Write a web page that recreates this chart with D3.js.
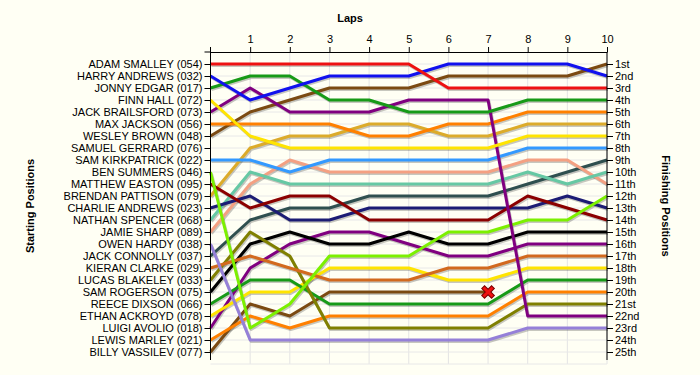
<!DOCTYPE html>
<html>
<head>
<meta charset="utf-8">
<script src="https://cdn.jsdelivr.net/npm/d3@7"></script>
<style>
  html, body { margin: 0; padding: 0; background: #fffff4; }
  svg { display: block; font-family: "Liberation Sans", Arial, sans-serif; }
</style>
</head>
<body>
<svg id="chart" width="700" height="375"></svg>
<script>
// ---------- data ----------
const laps = [0, 1, 2, 3, 4, 5, 6, 7, 8, 9, 10];
const lapTickLabels = ["1", "2", "3", "4", "5", "6", "7", "8", "9", "10"];

const drivers = [
  "ADAM SMALLEY (054)", "HARRY ANDREWS (032)", "JONNY EDGAR (017)", "FINN HALL (072)",
  "JACK BRAILSFORD (073)", "MAX JACKSON (056)", "WESLEY BROWN (048)", "SAMUEL GERRARD (076)",
  "SAM KIRKPATRICK (022)", "BEN SUMMERS (046)", "MATTHEW EASTON (095)", "BRENDAN PATTISON (079)",
  "CHARLIE ANDREWS (023)", "NATHAN SPENCER (068)", "JAMIE SHARP (089)", "OWEN HARDY (038)",
  "JACK CONNOLLY (037)", "KIERAN CLARKE (029)", "LUCAS BLAKELEY (033)", "SAM ROGERSON (075)",
  "REECE DIXSON (066)", "ETHAN ACKROYD (078)", "LUIGI AVOLIO (018)", "LEWIS MARLEY (021)",
  "BILLY VASSILEV (077)"
];

const finishLabels = ["1st","2nd","3rd","4th","5th","6th","7th","8th","9th","10th","11th","12th",
  "13th","14th","15th","16th","17th","18th","19th","20th","21st","22nd","23rd","24th","25th"];

// position at each lap (lap 0 .. lap 10), one row per driver in starting order; null = no data
const lapPositions = [
  [1, 1, 1, 1, 1, 1, 3, 3, 3, 3, 3],          // Smalley
  [2, 4, 3, 2, 2, 2, 1, 1, 1, 1, 2],          // H. Andrews
  [3, 2, 2, 4, 4, 5, 5, 5, 4, 4, 4],          // Edgar
  [4, 7, 8, 8, 8, 8, 8, 8, 7, 7, 7],          // Hall
  [5, 3, 5, 5, 5, 4, 4, 4, 22, 22, 22],       // Brailsford
  [6, 6, 6, 6, 7, 7, 6, 6, 5, 5, 5],          // Jackson
  [7, 5, 4, 3, 3, 3, 2, 2, 2, 2, 1],          // Brown
  [null, null, null, null, null, null, null, null, null, null, null], // Gerrard
  [9, 9, 10, 9, 9, 9, 9, 9, 8, 8, 8],         // Kirkpatrick
  [10, 23, 21, 17, 17, 17, 15, 15, 14, 14, 12], // Summers
  [11, 13, 12, 12, 14, 14, 14, 14, 12, 13, 14], // Easton
  [12, 8, 7, 7, 6, 6, 7, 7, 6, 6, 6],         // Pattison
  [13, 12, 14, 14, 13, 13, 13, 13, 13, 12, 13], // C. Andrews
  [14, 10, 11, 11, 11, 11, 11, 11, 10, 11, 10], // Spencer
  [15, 11, 9, 10, 10, 10, 10, 10, 9, 9, 11],  // Sharp
  [16, 24, 24, 24, 24, 24, 24, 24, 23, 23, 23], // Hardy
  [17, 14, 13, 13, 12, 12, 12, 12, 11, 10, 9], // Connolly
  [18, 17, 18, 19, 19, 19, 18, 18, 17, 17, 17], // Clarke
  [19, 15, 17, 23, 23, 23, 23, 23, 21, 21, 21], // Blakeley
  [20, 16, 15, 16, 16, 15, 16, 16, 15, 15, 15], // Rogerson
  [21, 19, 19, 21, 21, 21, 21, 21, 19, 19, 19], // Dixson
  [22, 20, 20, 18, 18, 18, 19, 19, 18, 18, 18], // Ackroyd
  [23, 18, 16, 15, 15, 16, 17, 17, 16, 16, 16], // Avolio
  [24, 22, 23, 22, 22, 22, 22, 22, 20, 20, 20], // Marley
  [25, 21, 22, 20, 20, 20, 20, 20, null, null, null] // Vassilev (retired)
];

const retiredDriver = ["BILLY VASSILEV (077)"];
const retiredLap = [7];

const driverColors = [
  "#ee1111", "#1111ee", "#179a17", "#ffe400", "#800080", "#ff8000", "#7b4a12", "#999999",
  "#3399ff", "#7cf000", "#8b0000", "#dcab2a", "#1c1c74", "#66c8a4", "#f4a082", "#9580d8",
  "#2f4f4f", "#d2691e", "#808000", "#000000", "#179a17", "#ffe400", "#800080", "#ff8000",
  "#7b4a12"
];

// ---------- drawing ----------
const svg = d3.select("#chart");
const x = d3.scaleLinear().domain([0, 10]).range([210.5, 607]);
const y = d3.scaleLinear().domain([1, 25]).range([64, 352]);
const plotTop = 52, plotBottom = 364;

svg.append("rect").attr("width", 700).attr("height", 375).attr("fill", "#fffff4");

// grid
const grid = svg.append("g");
grid.selectAll(".vg").data(laps.slice(1)).join("line")
  .attr("x1", d => x(d)).attr("x2", d => x(d))
  .attr("y1", plotTop).attr("y2", plotBottom)
  .attr("stroke", "#e4e4e4").attr("stroke-width", 1);
grid.selectAll(".hg").data(d3.range(1, 27)).join("line")
  .attr("x1", x(0)).attr("x2", x(10))
  .attr("y1", d => y(d)).attr("y2", d => y(d))
  .attr("stroke", "#e8e8e8").attr("stroke-width", 1);

// lines
const line = d3.line()
  .defined(d => d.p != null)
  .x(d => x(d.lap)).y(d => y(d.p));

const series = drivers.map((name, i) => ({
  name, color: driverColors[i],
  pts: laps.map((l, k) => ({ lap: l, p: lapPositions[i][k] }))
}));

const lg = svg.append("g");
const order = series.slice().reverse();
lg.selectAll(".shadow").data(order).join("path")
  .attr("class", "shadow")
  .attr("d", d => line(d.pts))
  .attr("transform", "translate(1,1.5)")
  .attr("fill", "none").attr("stroke", "rgba(0,0,0,0.22)")
  .attr("stroke-width", 3).attr("stroke-linejoin", "round");
lg.selectAll(".ln").data(order).join("path")
  .attr("class", "ln")
  .attr("d", d => line(d.pts))
  .attr("fill", "none").attr("stroke", d => d.color)
  .attr("stroke-width", 3).attr("stroke-linejoin", "round");

// retired marker
retiredDriver.forEach((name, j) => {
  const i = drivers.indexOf(name);
  const lap = retiredLap[j];
  const cx = x(lap), cy = y(lapPositions[i][lap]);
  const g = svg.append("g").attr("transform", `translate(${cx},${cy})`);
  const s = 3.5;
  [["#7a0000", 5], ["#ee1111", 3]].forEach(([c, w]) => {
    g.append("line").attr("x1", -s).attr("y1", -s).attr("x2", s).attr("y2", s)
      .attr("stroke", c).attr("stroke-width", w).attr("stroke-linecap", "square");
    g.append("line").attr("x1", -s).attr("y1", s).attr("x2", s).attr("y2", -s)
      .attr("stroke", c).attr("stroke-width", w).attr("stroke-linecap", "square");
  });
});

// top axis
const topAxis = d3.axisTop(x).tickValues(laps.slice(1))
  .tickFormat((d, i) => lapTickLabels[i]).tickSize(5).tickSizeOuter(0);
const gt = svg.append("g").attr("transform", `translate(0,${plotTop})`).call(topAxis);
gt.select(".domain").attr("stroke", "#000");
gt.selectAll("text").attr("font-size", 11).attr("fill", "#000").attr("dy", "-0.1em");

// left axis
const leftAxis = d3.axisLeft(y).tickValues(d3.range(1, 26))
  .tickFormat(d => drivers[d - 1]).tickSize(6).tickSizeOuter(0);
const gl = svg.append("g").attr("transform", `translate(${x(0)},0)`).call(leftAxis);
gl.select(".domain").attr("d", `M0,${plotTop - 5}V${plotBottom - 4}`).attr("stroke", "#000");
gl.selectAll("text").attr("font-size", 11).attr("fill", "#000").attr("x", -8);
gl.append("line").attr("x1", -6).attr("x2", 0).attr("y1", plotTop).attr("y2", plotTop).attr("stroke", "#000");

// right axis
const rightAxis = d3.axisRight(y).tickValues(d3.range(1, 26))
  .tickFormat(d => finishLabels[d - 1]).tickSize(6).tickSizeOuter(0);
const gr = svg.append("g").attr("transform", `translate(${x(10)},0)`).call(rightAxis);
gr.select(".domain").attr("d", `M0,${plotTop}V${plotBottom - 4}`).attr("stroke", "#000");
gr.selectAll("text").attr("font-size", 11).attr("fill", "#000").attr("x", 8);

// titles
svg.append("text").attr("x", 350).attr("y", 22).attr("text-anchor", "middle")
  .attr("font-size", 11).attr("font-weight", "bold").text("Laps");
svg.append("text").attr("transform", "translate(34,206) rotate(-90)")
  .attr("text-anchor", "middle").attr("font-size", 11).attr("font-weight", "bold")
  .text("Starting Positions");
svg.append("text").attr("transform", "translate(662,206) rotate(90)")
  .attr("text-anchor", "middle").attr("font-size", 11).attr("font-weight", "bold")
  .text("Finishing Positions");
</script>
</body>
</html>
